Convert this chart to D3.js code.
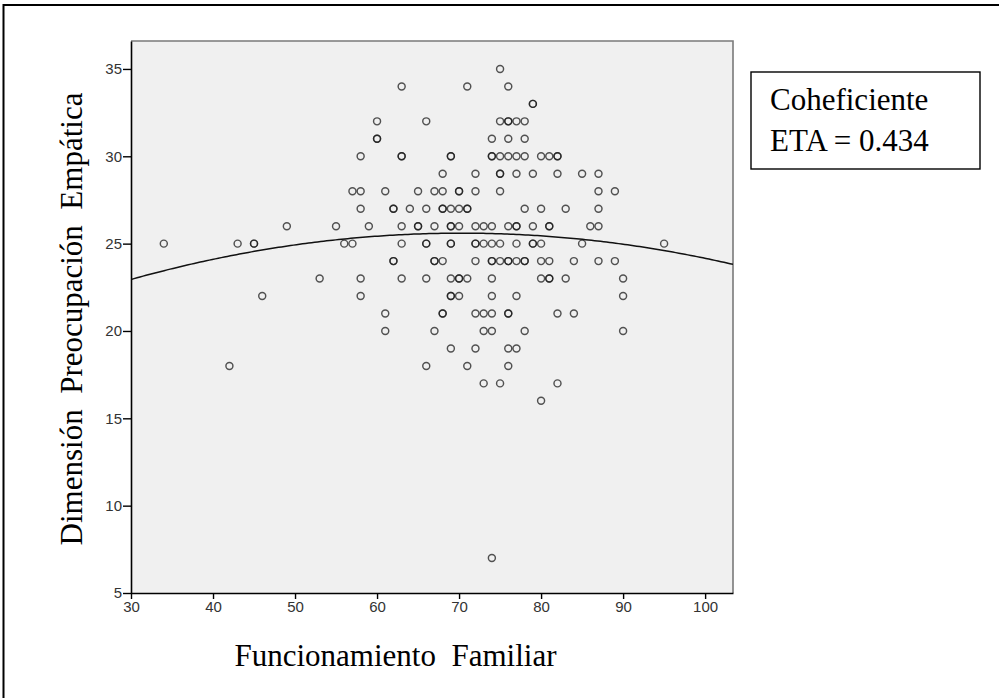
<!DOCTYPE html>
<html>
<head>
<meta charset="utf-8">
<script src="https://cdn.jsdelivr.net/npm/d3@7"></script>
<style>
  html, body { margin: 0; padding: 0; background: #ffffff; }
  svg { display: block; }
  .serif { font-family: "Liberation Serif", "Times New Roman", serif; fill: #000; white-space: pre; }
  .tick text { font-family: "Liberation Sans Narrow", "Arial Narrow", "Liberation Sans", Arial, sans-serif; fill: #333; }
</style>
</head>
<body>
<svg id="chart" width="999" height="698"></svg>
<script>
// ---- Data ----
// Funcionamiento Familiar (x) and Dimensión Preocupación Empática (y); repeated pairs = overlapping cases
const funcionamiento = [
  75,
  63, 71, 76,
  79, 79,
  60, 66, 75, 76, 76, 77, 78,
  60, 60, 74, 76, 78,
  58, 63, 63, 69, 69, 74, 74, 75, 76, 77, 78, 80, 81, 82, 82,
  68, 72, 75, 75, 77, 79, 82, 85, 87,
  57, 58, 61, 65, 67, 68, 70, 70, 72, 75, 87, 89,
  58, 62, 62, 64, 66, 68, 68, 69, 70, 71, 71, 78, 80, 83, 87,
  49, 55, 59, 63, 65, 65, 67, 69, 69, 70, 72, 73, 74, 76, 77, 77, 79, 81, 81, 86, 87,
  34, 43, 45, 45, 56, 57, 63, 66, 66, 69, 69, 72, 72, 73, 74, 75, 77, 79, 79, 80, 85, 95,
  62, 62, 67, 67, 68, 72, 74, 74, 75, 76, 76, 77, 78, 78, 80, 81, 84, 87, 89,
  53, 58, 63, 66, 69, 70, 70, 71, 74, 80, 81, 81, 83, 90,
  46, 58, 69, 69, 70, 74, 77, 90,
  61, 68, 68, 72, 73, 74, 76, 76, 82, 84,
  61, 67, 73, 74, 78, 90,
  69, 72, 76, 77,
  42, 66, 71, 76,
  73, 75, 82,
  80,
  74
];
const preocupacion = [
  35,
  34, 34, 34,
  33, 33,
  32, 32, 32, 32, 32, 32, 32,
  31, 31, 31, 31, 31,
  30, 30, 30, 30, 30, 30, 30, 30, 30, 30, 30, 30, 30, 30, 30,
  29, 29, 29, 29, 29, 29, 29, 29, 29,
  28, 28, 28, 28, 28, 28, 28, 28, 28, 28, 28, 28,
  27, 27, 27, 27, 27, 27, 27, 27, 27, 27, 27, 27, 27, 27, 27,
  26, 26, 26, 26, 26, 26, 26, 26, 26, 26, 26, 26, 26, 26, 26, 26, 26, 26, 26, 26, 26,
  25, 25, 25, 25, 25, 25, 25, 25, 25, 25, 25, 25, 25, 25, 25, 25, 25, 25, 25, 25, 25, 25,
  24, 24, 24, 24, 24, 24, 24, 24, 24, 24, 24, 24, 24, 24, 24, 24, 24, 24, 24,
  23, 23, 23, 23, 23, 23, 23, 23, 23, 23, 23, 23, 23, 23,
  22, 22, 22, 22, 22, 22, 22, 22,
  21, 21, 21, 21, 21, 21, 21, 21, 21, 21,
  20, 20, 20, 20, 20, 20,
  19, 19, 19, 19,
  18, 18, 18, 18,
  17, 17, 17,
  16,
  7
];
// Quadratic fit line coefficients (y = a + b*x + c*x^2)
const fitCoef = [17.534, 0.22946, -0.001632];

const xTicks = [30, 40, 50, 60, 70, 80, 90, 100];
const yTicks = [5, 10, 15, 20, 25, 30, 35];
const xDomain = [30, 103.4];
const yDomain = [5, 36.6];

const xTitle = "Funcionamiento  Familiar";
const yTitle = "Dimensión  Preocupación  Empática";
const noteLines = ["Coheficiente", "ETA = 0.434"];

// ---- Drawing ----
const svg = d3.select("#chart");
const L = 131, R = 733, T = 41, B = 593;

// outer frame
svg.append("rect")
  .attr("x", 3.5).attr("y", 5).attr("width", 1010).attr("height", 710)
  .attr("fill", "none").attr("stroke", "#000").attr("stroke-width", 2);

const x = d3.scaleLinear().domain(xDomain).range([L, R]);
const y = d3.scaleLinear().domain(yDomain).range([B, T]);

// plot background
svg.append("rect")
  .attr("x", L).attr("y", T).attr("width", R - L).attr("height", B - T)
  .attr("fill", "#f0f0f0");
// top & right border (grey)
svg.append("path")
  .attr("d", `M${L},${T}H${R}V${B}`)
  .attr("fill", "none").attr("stroke", "#7a7a7a").attr("stroke-width", 1.6);

// clip for plot
svg.append("clipPath").attr("id", "clip")
  .append("rect").attr("x", L).attr("y", T).attr("width", R - L).attr("height", B - T);

// points
const pts = funcionamiento.map((v, i) => [v, preocupacion[i]]);
svg.append("g").attr("clip-path", "url(#clip)")
  .selectAll("circle").data(pts).join("circle")
  .attr("cx", d => x(d[0])).attr("cy", d => y(d[1]))
  .attr("r", 3.5)
  .attr("fill", "none")
  .attr("stroke", "#1a1a1a")
  .attr("stroke-opacity", 0.74)
  .attr("stroke-width", 1.45);

// fit curve
const fx = d3.range(0, 201).map(i => xDomain[0] + (xDomain[1] - xDomain[0]) * i / 200);
const line = d3.line()
  .x(d => x(d))
  .y(d => y(fitCoef[0] + fitCoef[1] * d + fitCoef[2] * d * d))
  .curve(d3.curveLinear);
svg.append("path")
  .attr("clip-path", "url(#clip)")
  .attr("d", line(fx))
  .attr("fill", "none").attr("stroke", "#111").attr("stroke-width", 1.5);

// axes
const xAxis = d3.axisBottom(x).tickValues(xTicks).tickSize(6).tickSizeOuter(0).tickPadding(2);
const yAxis = d3.axisLeft(y).tickValues(yTicks).tickSize(8).tickSizeOuter(0).tickPadding(1);

const gx = svg.append("g").attr("transform", `translate(0,${B})`).call(xAxis);
const gy = svg.append("g").attr("transform", `translate(${L},0)`).call(yAxis);
[gx, gy].forEach(g => {
  g.select(".domain").attr("stroke", "#000").attr("stroke-width", 1.6);
  g.selectAll(".tick line").attr("stroke", "#000").attr("stroke-width", 1.4);
  g.selectAll(".tick text").attr("font-size", 15);
});
gx.selectAll(".tick text").attr("dy", "0.72em");

// axis titles
svg.append("text").attr("class", "serif")
  .attr("x", 395.5).attr("y", 666)
  .attr("text-anchor", "middle")
  .attr("font-size", 31)
  .text(xTitle);

svg.append("text").attr("class", "serif")
  .attr("transform", "translate(81.5,319) rotate(-90)")
  .attr("text-anchor", "middle")
  .attr("font-size", 31)
  .text(yTitle);

// annotation box
svg.append("rect")
  .attr("x", 751).attr("y", 72).attr("width", 229).attr("height", 97)
  .attr("fill", "#fff").attr("stroke", "#000").attr("stroke-width", 1.4);
svg.append("g").selectAll("text").data(noteLines).join("text")
  .attr("class", "serif")
  .attr("x", 770).attr("y", (d, i) => 110 + i * 40.5)
  .attr("font-size", 31)
  .text(d => d);
</script>
</body>
</html>
